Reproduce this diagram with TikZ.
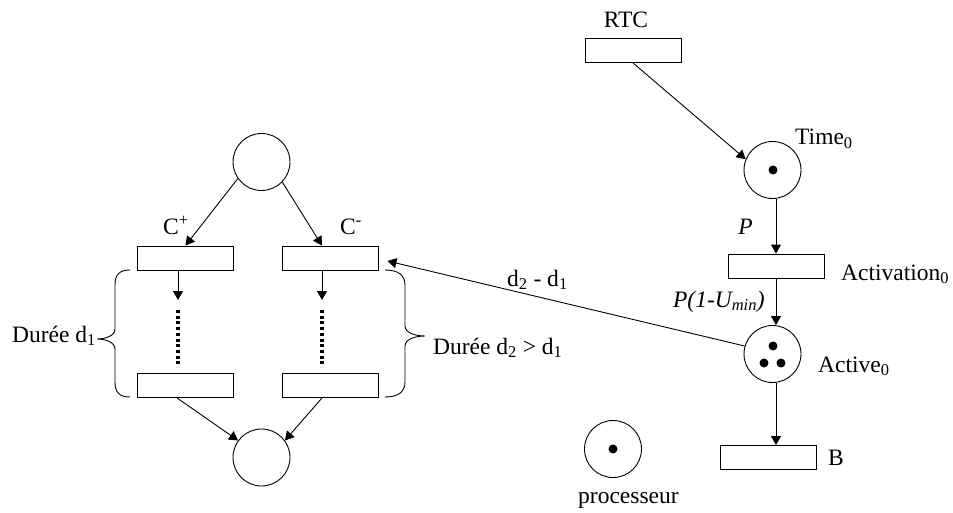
\documentclass[tikz,border=0pt]{standalone}
\usepackage{fontspec}
\setmainfont{Liberation Serif}
\usetikzlibrary{arrows.meta}
\begin{document}
\begin{tikzpicture}[x=1pt,y=-1pt,
  place/.style={circle,draw,line width=0.9pt,minimum size=57pt,inner sep=0pt},
  trans/.style={rectangle,draw,line width=0.9pt,minimum width=96pt,minimum height=24pt,inner sep=0pt},
  arc/.style={line width=0.9pt,-{Triangle[length=9pt,width=10pt]}},
  token/.style={circle,fill,inner sep=0pt,minimum size=9pt},
  lbl/.style={inner sep=0pt,font=\fontsize{23.5}{28}\selectfont},
  brace/.style={line width=0.9pt},
  ellipsis/.style={line width=3.5pt,dash pattern=on 3pt off 2.7pt}
]
\useasboundingbox (0,0) rectangle (953,513);

% --- left net: choice between two durations ---
\node[place] (ptop) at (261.5,162) {};
\node[place] (pbot) at (261.5,457.5) {};
\node[trans] (cp)  at (185.5,258) {};
\node[trans] (cm)  at (330,258) {};
\node[trans] (cpb) at (185.5,385.5) {};
\node[trans] (cmb) at (330,385.5) {};

\draw[arc] (ptop.215) -- (cp.north);
\draw[arc] (ptop.316) -- ([xshift=-8pt]cm.north);

\coordinate (cpt)  at (178,300);
\coordinate (cpd1) at (178,310);
\coordinate (cpd2) at (178,367);
\coordinate (cmt)  at (322,300);
\coordinate (cmd1) at (322,310);
\coordinate (cmd2) at (322,367);
\draw[arc] (cp.south -| cpt) -- (cpt);
\draw[arc] (cm.south -| cmt) -- (cmt);
\draw[ellipsis] (cpd1) -- (cpd2);
\draw[ellipsis] (cmd1) -- (cmd2);

\draw[arc] ([xshift=-8.5pt]cpb.south) -- (pbot.144);
\draw[arc] ([xshift=-8pt]cmb.south) -- (pbot.36);

% braces
\draw[brace] (130,270) .. controls (119,270) and (115,275) .. (115,285)
  -- (115,329) .. controls (115,336) and (105,339) .. (97,339)
  .. controls (105,339) and (115,342) .. (115,349)
  -- (115,382) .. controls (115,392) and (119,397) .. (130,397);
\draw[brace] (385,270) .. controls (398,270) and (405,275) .. (405,285)
  -- (405,326) .. controls (405,333) and (416,336) .. (425,336)
  .. controls (416,336) and (405,339) .. (405,346)
  -- (405,382) .. controls (405,392) and (398,397) .. (385,397);

% --- right net: activation chain ---
\node[trans] (rtc)    at (633,50.5) {};
\node[place] (time)   at (772.5,170) {};
\node[trans] (act)    at (776,266) {};
\node[place] (active) at (772.5,354) {};
\node[trans] (b)      at (768.5,457.5) {};
\node[place] (proc)   at (613,449) {};

\node[token] (tk1) at (773,170) {};
\node[token] (tk2) at (773,346) {};
\node[token] (tk3) at (764,363) {};
\node[token] (tk4) at (781,363) {};
\node[token] (tk5) at (613,449) {};

\draw[arc] (rtc.south) -- (time.158);
\draw[arc] (time.south -| act.north) -- (act.north);
\draw[arc] (act.south) -- (act.south |- active.north);
\draw[arc] (active.south -| act.south) -- (b.north -| act.south);
\draw[arc] (active.164) -- ([shift={(9pt,-3pt)}]cm.east);

% --- labels ---
\node[lbl,anchor=base] (lrtc) at (626,28) {RTC};
\node[lbl,anchor=base west] (ltime) at (795,145) {Time\textsubscript{0}};
\node[lbl,anchor=base] (lp) at (745.5,235) {\textit{P}};
\node[lbl,anchor=base east] (lpu) at (765,307) {\textit{P(1-U\textsubscript{min})}};
\node[lbl,anchor=base west] (lact) at (841,280) {Activation\textsubscript{0}};
\node[lbl,anchor=base west] (lactive) at (818,372) {Active\textsubscript{0}};
\node[lbl,anchor=base west] (lb) at (828,465) {B};
\node[lbl,anchor=base west] (lproc) at (578,503) {processeur};
\node[lbl,anchor=base west] (lcp) at (163,235) {C\textsuperscript{+}};
\node[lbl,anchor=base west] (lcm) at (340,235) {C\textsuperscript{-}};
\node[lbl,anchor=base west] (ld) at (507,286) {d\textsubscript{2} - d\textsubscript{1}};
\node[lbl,anchor=base west] (ldur1) at (12,342) {Durée d\textsubscript{1}};
\node[lbl,anchor=base west] (ldur2) at (433,354) {Durée d\textsubscript{2} > d\textsubscript{1}};
\end{tikzpicture}
\end{document}
